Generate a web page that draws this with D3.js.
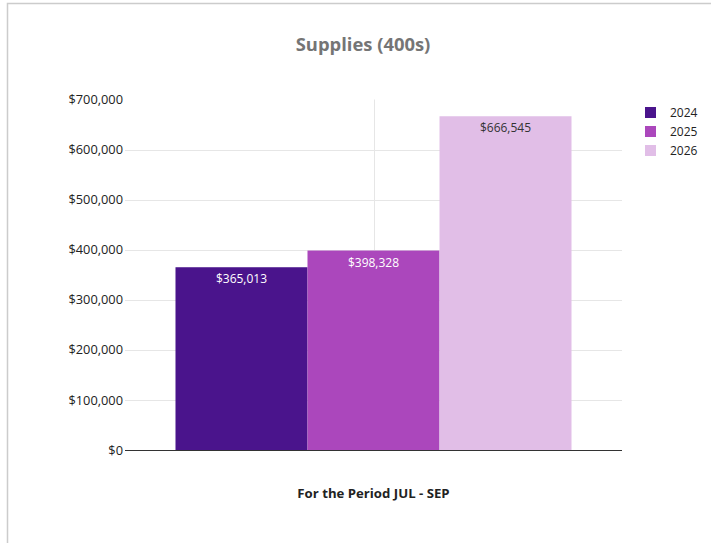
<!DOCTYPE html>
<html><head><meta charset="utf-8">
<script src="https://cdn.jsdelivr.net/npm/d3@7"></script>
<style>
html,body{margin:0;padding:0;background:#fff;}
svg{display:block;font-family:"Open Sans",sans-serif;}
</style></head>
<body><svg id="c" width="711" height="543"></svg>
<script>
const categories = ["For the Period JUL - SEP"];
const seriesNames = ["2024", "2025", "2026"];
const seriesValues = [365013, 398328, 666545];
const seriesColors = ["#4a148c", "#ab47bc", "#e1bee7"];
const labelColors = ["#ffffff", "#ffffff", "#333333"];
const yTicks = [0, 100000, 200000, 300000, 400000, 500000, 600000, 700000];

(function(){
const svg = d3.select("#c");
// frame
svg.append("rect").attr("x",7.5).attr("y",3.5).attr("width",760).attr("height",600)
  .attr("fill","none").attr("stroke","#cccccc").attr("stroke-width",1.5);

const pLeft = 125, pRight = 622, pTop = 99.5, pBottom = 450;
const y = d3.scaleLinear().domain([0, 700000]).range([pBottom, pTop]);
const x0 = d3.scaleBand().domain(categories).range([pLeft, pRight]).paddingInner(0).paddingOuter(0.1275);
const x1 = d3.scaleBand().domain(seriesNames).range([0, x0.bandwidth()]).padding(0);

// gridlines
svg.append("g").selectAll("line").data(yTicks.filter(d=>d>0 && d<700000)).join("line")
  .attr("x1",pLeft).attr("x2",pRight).attr("y1",d=>Math.round(y(d))+0.5).attr("y2",d=>Math.round(y(d))+0.5)
  .attr("stroke","#e6e6e6").attr("stroke-width",1);
// vertical center grid
const cx = pLeft + (pRight-pLeft)/2;
svg.append("line").attr("x1",Math.round(cx)+0.5).attr("x2",Math.round(cx)+0.5).attr("y1",pTop).attr("y2",pBottom)
  .attr("stroke","#e6e6e6");

// y axis labels
const fmt = d => "$" + d3.format(",")(d);
const yAxis = d3.axisLeft(y).tickValues(yTicks).tickFormat(fmt).tickSize(0).tickPadding(2);
const ga = svg.append("g").attr("transform",`translate(${pLeft},0)`).call(yAxis);
ga.select(".domain").remove();
ga.selectAll("text").attr("font-size",12.8).attr("fill","#222").attr("font-family","Open Sans");

// bars
const g = svg.append("g").attr("transform",`translate(${x0(categories[0])},0)`);
g.selectAll("rect").data(seriesValues).join("rect")
  .attr("x",(d,i)=>x1(seriesNames[i])).attr("width",x1.bandwidth())
  .attr("y",d=>y(d)).attr("height",d=>pBottom-y(d)).attr("fill",(d,i)=>seriesColors[i]);
g.selectAll("text").data(seriesValues).join("text")
  .attr("x",(d,i)=>x1(seriesNames[i])+x1.bandwidth()/2).attr("y",d=>y(d)+16)
  .attr("text-anchor","middle").attr("font-size",12).attr("fill",(d,i)=>labelColors[i])
  .text(fmt);

// baseline
svg.append("line").attr("x1",pLeft).attr("x2",pRight).attr("y1",pBottom+0.5).attr("y2",pBottom+0.5)
  .attr("stroke","#333").attr("stroke-width",1);

// title
svg.append("text").attr("x",363).attr("y",51).attr("text-anchor","middle")
  .attr("font-size",18.4).attr("font-weight","bold").attr("fill","#757575").text("Supplies (400s)");
// x title
svg.append("text").attr("x",cx).attr("y",498).attr("text-anchor","middle")
  .attr("font-size",13.2).attr("font-weight","bold").attr("fill","#222").text(categories[0]);

// legend
const lg = svg.append("g").attr("transform","translate(645,107)");
const items = lg.selectAll("g").data(seriesNames).join("g").attr("transform",(d,i)=>`translate(0,${i*19})`);
items.append("rect").attr("width",11).attr("height",11).attr("fill",(d,i)=>seriesColors[i]);
items.append("text").attr("x",25).attr("y",10).attr("font-size",12).attr("fill","#222").text(d=>d);
})();
</script></body></html>
